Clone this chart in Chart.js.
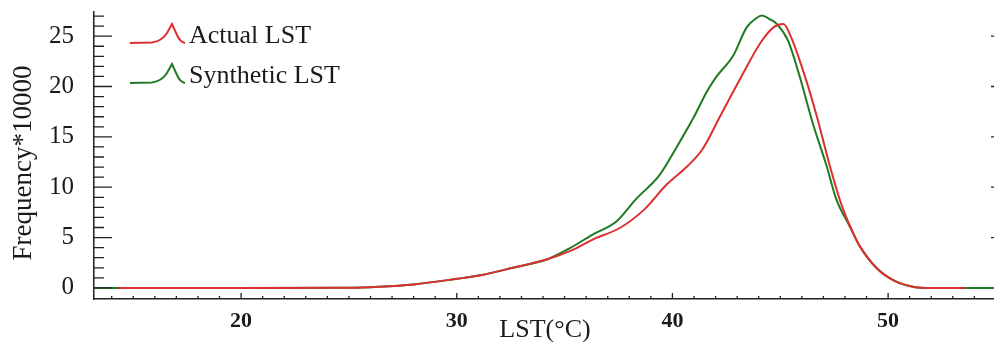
<!DOCTYPE html>
<html>
<head>
<meta charset="utf-8">
<script src="https://cdn.jsdelivr.net/npm/chart.js@4.4.1/dist/chart.umd.min.js"></script>
<style>
    body { margin: 0; background: #fff; }
    #wrap { width: 994px; height: 342px; }
</style>
</head>
<body>
<div id="wrap"><canvas id="lstChart" width="994" height="342"></canvas></div>
<script>
// values
var actualLst  = [14.3, 20, 25, 26.4, 28, 30, 31.1, 32.6, 34.2, 35.3, 36.3, 37.6, 38.7, 39.7, 40.7, 41.4, 42.2, 43.2, 44.1, 44.7, 45.15, 45.5, 46.1, 46.7, 47.3, 47.8, 48.2, 48.7, 49.5, 50.3, 51.2, 52, 53.6];
var actualFreq = [0, 0, 0.02, 0.12, 0.35, 0.9, 1.25, 2.0, 2.85, 3.7, 4.8, 6.0, 7.8, 10.2, 12.1, 13.8, 17.0, 21.0, 24.4, 25.9, 26.2, 24.9, 21.3, 17.0, 12.1, 8.5, 6.3, 4.1, 1.9, 0.7, 0.1, 0, 0];

var synthLst  = [13.2, 20, 25, 26.4, 28, 30, 31.1, 32.6, 34.2, 35.25, 36.3, 37.4, 38.3, 39.4, 40.2, 41.0, 41.6, 42.05, 42.8, 43.45, 43.9, 44.15, 44.5, 44.85, 45.35, 45.9, 46.5, 47.15, 47.6, 48.2, 48.7, 49.5, 50.3, 51.2, 52, 55];
var synthFreq = [0, 0, 0.02, 0.12, 0.35, 0.9, 1.25, 2.0, 2.85, 3.95, 5.3, 6.6, 8.8, 11.2, 14.0, 17.0, 19.5, 21.0, 23.0, 25.9, 26.8, 27.05, 26.7, 26.2, 24.6, 21.0, 16.4, 12.1, 8.8, 6.2, 4.1, 1.9, 0.7, 0.1, 0, 0];

var xMajor = [20, 30, 40, 50];
var yMajor = [0, 5, 10, 15, 20, 25];
var seriesNames = ['Actual LST', 'Synthetic LST'];

function toPoints(xs, ys) {
    var pts = [];
    for (var i = 0; i < xs.length; i++) {
        pts.push({ x: xs[i], y: ys[i] });
    }
    return pts;
}

var serif = '"Liberation Serif", "Times New Roman", serif';

// inward minor/major ticks, axis titles, legend with peak icons
var decorPlugin = {
    id: 'decor',
    afterDraw: function(chart) {
        var ctx = chart.ctx;
        var xs = chart.scales.x, ys = chart.scales.y;
        var area = chart.chartArea;
        ctx.save();
        ctx.strokeStyle = '#222';
        ctx.lineWidth = 1.3;
        ctx.beginPath();
        for (var v = 0; v <= 27; v++) {
            var py = ys.getPixelForValue(v);
            var len = (v % 5 === 0) ? 18 : 10;
            ctx.moveTo(area.left, py);
            ctx.lineTo(area.left + len, py);
            if (v % 5 === 0 && v > 0) {
                ctx.moveTo(area.right - 3, py);
                ctx.lineTo(area.right, py);
            }
        }
        for (var t = 14; t <= 54; t++) {
            var px = xs.getPixelForValue(t);
            var tl = (t % 10 === 0) ? 6 : 3;
            ctx.moveTo(px, area.bottom);
            ctx.lineTo(px, area.bottom - tl);
        }
        ctx.stroke();

        ctx.fillStyle = '#1a1a1a';
        ctx.font = '26px ' + serif;
        ctx.textAlign = 'center';
        ctx.textBaseline = 'alphabetic';
        ctx.fillText('LST(°C)', 545, 337);

        ctx.save();
        ctx.translate(31, 163);
        ctx.rotate(-Math.PI / 2);
        ctx.font = '27px ' + serif;
        ctx.fillText('Frequency*10000', 0, 0);
        ctx.restore();

        // legend
        var rows = [43, 83];
        chart.data.datasets.forEach(function(ds, i) {
            var b = rows[i];
            ctx.strokeStyle = ds.borderColor;
            ctx.lineWidth = 2;
            ctx.beginPath();
            ctx.moveTo(130, b);
            ctx.lineTo(152, b - 0.5);
            ctx.quadraticCurveTo(162, b - 2, 167, b - 10);
            ctx.lineTo(172, b - 19);
            ctx.lineTo(177, b - 8);
            ctx.quadraticCurveTo(180, b - 1, 185, b);
            ctx.stroke();
            ctx.fillStyle = '#1a1a1a';
            ctx.font = '26px ' + serif;
            ctx.textAlign = 'left';
            ctx.fillText(ds.label, 189, b);
        });
        ctx.restore();
    }
};

var ctx = document.getElementById('lstChart').getContext('2d');
var lstChart = new Chart(ctx, {
    type: 'line',
    data: {
        datasets: [{
            label: seriesNames[0],
            data: toPoints(actualLst, actualFreq),
            borderColor: '#dc3030',
            borderWidth: 2,
            pointRadius: 0,
            fill: false,
            cubicInterpolationMode: 'monotone'
        }, {
            label: seriesNames[1],
            data: toPoints(synthLst, synthFreq),
            borderColor: '#1f7a24',
            borderWidth: 2,
            pointRadius: 0,
            fill: false,
            cubicInterpolationMode: 'monotone'
        }]
    },
    options: {
        responsive: false,
        animation: false,
        layout: { padding: { top: 12, right: 0, left: 0, bottom: 0 } },
        plugins: {
            legend: { display: false },
            tooltip: { enabled: false }
        },
        scales: {
            x: {
                type: 'linear',
                min: 13.18,
                max: 54.91,
                grid: { display: false },
                border: { display: true, color: '#222', width: 1.5 },
                afterFit: function(scale) {
                    scale.height = 43;
                    scale.paddingLeft = 0;
                    scale.paddingRight = 0;
                },
                ticks: {
                    stepSize: 10,
                    includeBounds: false,
                    autoSkip: false,
                    maxRotation: 0,
                    padding: 1,
                    color: '#1a1a1a',
                    font: { family: serif, size: 22, weight: 'bold' },
                    callback: function(value) {
                        return xMajor.indexOf(value) >= 0 ? String(value) : '';
                    }
                }
            },
            y: {
                min: -1.1,
                max: 27.4,
                grid: { display: false },
                border: { display: true, color: '#222', width: 1.5 },
                afterFit: function(scale) {
                    scale.width = 94;
                    scale.paddingTop = 0;
                    scale.paddingBottom = 0;
                },
                ticks: {
                    stepSize: 5,
                    includeBounds: false,
                    autoSkip: false,
                    padding: 12,
                    color: '#1a1a1a',
                    font: { family: serif, size: 25 },
                    callback: function(value) {
                        return yMajor.indexOf(value) >= 0 ? String(value) : '';
                    }
                }
            }
        }
    },
    plugins: [decorPlugin]
});
</script>
</body>
</html>
